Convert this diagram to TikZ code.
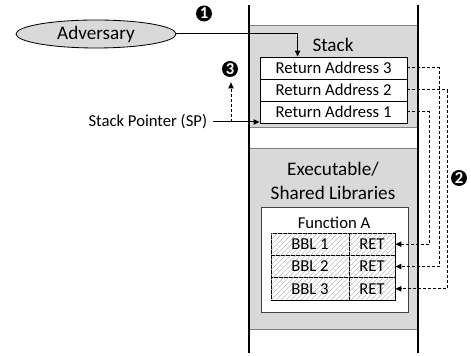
\documentclass[tikz,border=0pt]{standalone}
\usepackage{fontspec}
\setmainfont{Carlito}
\usetikzlibrary{arrows.meta,shapes.geometric,patterns,calc}
\definecolor{regfill}{HTML}{D9D9D9}
\definecolor{regline}{HTML}{808080}
\begin{document}
\begin{tikzpicture}[x=0.6pt,y=-0.6pt,
  region/.style={draw=regline, fill=regfill, line width=0.6pt, inner sep=0},
  big/.style={font=\fontsize{11.5}{14}\selectfont},
  norm/.style={font=\fontsize{10}{12}\selectfont},
  rabox/.style={draw, fill=white, line width=0.5pt, minimum width=88.2pt, minimum height=13.2pt, inner sep=0, norm},
  cell/.style={draw, fill=white, line width=0.5pt, minimum height=13.4pt, inner sep=0, norm,
    postaction={pattern=north east lines, pattern color=black!25}},
  marker/.style={circle, fill=black, text=white, inner sep=0, minimum size=9.6pt, font=\bfseries\fontsize{10}{10}\selectfont},
  tip/.style={-{Triangle[length=3.6pt,width=3.2pt]}},
  conn/.style={tip, line width=0.6pt},
  dconn/.style={tip, line width=0.6pt, dash pattern=on 1.8pt off 1.2pt},
  column/.style={line width=1.2pt}
]
\useasboundingbox (0,0) rectangle (471,356);

% regions
\node[region, minimum width=101.4pt, minimum height=61.2pt] (stack) at (333.5,77) {};
\node[region, minimum width=101.4pt, minimum height=108.6pt] (exec) at (333.5,239.5) {};

% column lines
\draw[column] (249,5) -- (249,353);
\draw[column] (418,5) -- (418,353);

% stack
\node[big] (stacklbl) at (333,45) {Stack};
\node[rabox] (ra3) at (333.5,68) {Return Address 3};
\node[rabox] (ra2) at (333.5,90) {Return Address 2};
\node[rabox] (ra1) at (333.5,112) {Return Address 1};

% executable
\node[big, align=center] (execlbl) at (333,181) {Executable/\\Shared Libraries};
\node[draw=black!75, fill=white, line width=0.5pt, minimum width=88.2pt, minimum height=63pt, inner sep=0] (func) at (334.5,259.5) {};
\node[norm] (funclbl) at (334,223) {Function A};
\node[cell, minimum width=46.8pt] (bbl1) at (310,244.2) {BBL 1};
\node[cell, minimum width=27.6pt] (ret1) at (372,244.2) {RET};
\node[cell, minimum width=46.8pt] (bbl2) at (310,266.5) {BBL 2};
\node[cell, minimum width=27.6pt] (ret2) at (372,266.5) {RET};
\node[cell, minimum width=46.8pt] (bbl3) at (310,288.8) {BBL 3};
\node[cell, minimum width=27.6pt] (ret3) at (372,288.8) {RET};

% adversary
\node[ellipse, draw, fill=regfill, line width=0.5pt, minimum width=96pt, minimum height=16.8pt, inner sep=0, big] (adv) at (96,34) {Adversary};
\node[marker] (m1) at (204,13.5) {1};
\coordinate (advturn) at ($(ra3.north west)+(38,0)$);
\draw[conn] (adv.east) -| (advturn);

% stack pointer
\node[norm, anchor=east] (sp) at (213,122) {Stack Pointer (SP)};
\draw[conn] (sp.east) -- (sp.east -| ra1.west);
\node[marker] (m3) at (230,69) {3};
\coordinate (spup) at ($(sp.east)+(18,0)$);
\draw[dconn, shorten >=3pt] (spup) -- (spup |- m3.south);

% return edges
\draw[dconn] (ra1.east) -- ++(22,0) |- (ret1.east);
\draw[dconn] (ra3.east) -- ++(32,0) |- (ret2.east);
\draw[dconn] (ra2.east) -- ++(40,0) |- (ret3.east);
\node[marker] (m2) at (459,178) {2};
\end{tikzpicture}
\end{document}
